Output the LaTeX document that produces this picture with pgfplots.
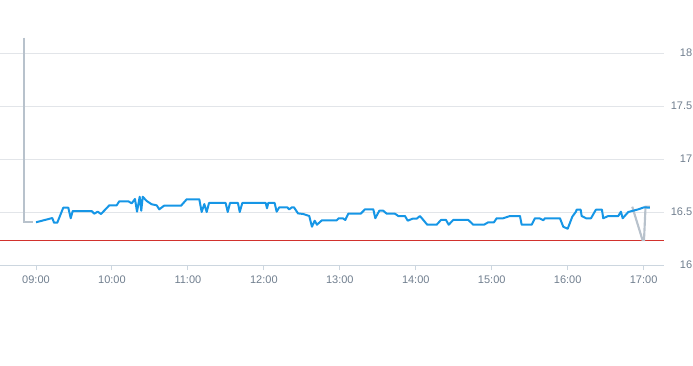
\documentclass[border=0pt]{standalone}
\usepackage{pgfplots}
\pgfplotsset{compat=1.18}
\usepackage{fontspec}
\setmainfont{Liberation Sans}
\definecolor{lblgray}{RGB}{112,126,142}
\definecolor{axgray}{RGB}{204,214,223}
\definecolor{gridgray}{RGB}{226,229,233}
\definecolor{bluel}{RGB}{22,150,230}
\definecolor{grayl}{RGB}{184,194,204}
\definecolor{redl}{RGB}{210,50,45}
\begin{document}
\begin{tikzpicture}
\useasboundingbox (0,0) rectangle (519.75pt,273.75pt);
\begin{axis}[
  at={(0pt,75pt)}, anchor=south west,
  scale only axis, width=498pt, height=198.75pt,
  xmin=8.526, xmax=17.268, ymin=16, ymax=18.5,
  axis x line=bottom, axis y line=right,
  axis line style={-},
  x axis line style={draw=axgray, line width=0.75pt},
  y axis line style={draw=none},
  xtick={9,10,11,12,13,14,15,16,17},
  xticklabels={09:00,10:00,11:00,12:00,13:00,14:00,15:00,16:00,17:00},
  ytick={16,16.5,17,17.5,18},
  yticklabels={16,16.5,17,17.5,18},
  tick align=outside, major tick length=3.75pt,
  xtick style={draw=axgray, line width=0.75pt},
  ytick style={draw=none},
  ymajorgrids, grid style={draw=gridgray, line width=0.6pt},
  ticklabel style={font=\fontsize{8.25pt}{10pt}\selectfont, text=lblgray},
  xticklabel style={anchor=base, inner sep=0pt, yshift=-9.75pt},
  yticklabel style={anchor=east, inner sep=0pt, xshift=17.6pt},
  /pgf/number format/assume math mode=true,
]
\addplot[draw=redl, line width=0.6pt] coordinates {(8.526,16.236) (17.268,16.236)};
\addplot[draw=grayl, line width=1.6pt] coordinates {(8.838,18.144) (8.838,16.403) (8.961,16.403)};
\addplot[draw=grayl, line width=1.6pt] coordinates {(16.850,16.550) (16.985,16.236) (17.005,16.236) (17.025,16.550) (17.083,16.550)};
\addplot[draw=bluel, line width=1.5pt, line join=round] coordinates {
(9.000,16.403) (9.215,16.443) (9.237,16.399) (9.280,16.399) (9.359,16.541)
(9.425,16.541) (9.457,16.441) (9.483,16.509) (9.733,16.509) (9.767,16.484)
(9.812,16.503) (9.856,16.481) (9.965,16.563) (10.062,16.563) (10.097,16.601)
(10.215,16.601) (10.260,16.582) (10.303,16.623) (10.330,16.503) (10.365,16.644)
(10.386,16.512) (10.405,16.644) (10.457,16.604) (10.523,16.573) (10.589,16.563)
(10.623,16.525) (10.685,16.559) (10.909,16.559) (10.984,16.620) (11.150,16.620)
(11.181,16.500) (11.216,16.575) (11.247,16.500) (11.278,16.585) (11.497,16.585)
(11.524,16.500) (11.554,16.585) (11.659,16.585) (11.682,16.500) (11.716,16.585)
(12.024,16.585) (12.041,16.535) (12.058,16.585) (12.142,16.585) (12.168,16.503)
(12.203,16.544) (12.308,16.544) (12.334,16.525) (12.370,16.544) (12.396,16.544)
(12.449,16.487) (12.519,16.481) (12.598,16.462) (12.633,16.361) (12.669,16.418)
(12.699,16.380) (12.765,16.422) (12.959,16.422) (12.985,16.441) (13.038,16.441)
(13.072,16.425) (13.112,16.484) (13.275,16.484) (13.331,16.525) (13.441,16.525)
(13.467,16.441) (13.520,16.512) (13.572,16.512) (13.617,16.484) (13.726,16.484)
(13.770,16.462) (13.858,16.462) (13.894,16.418) (13.959,16.437) (14.012,16.437)
(14.055,16.462) (14.099,16.425) (14.151,16.380) (14.275,16.380) (14.332,16.425)
(14.398,16.425) (14.433,16.380) (14.494,16.425) (14.691,16.425) (14.757,16.380)
(14.898,16.380) (14.955,16.403) (15.030,16.403) (15.065,16.441) (15.152,16.441)
(15.240,16.462) (15.372,16.462) (15.394,16.380) (15.526,16.380) (15.569,16.441)
(15.626,16.441) (15.679,16.422) (15.701,16.441) (15.898,16.441) (15.942,16.361)
(16.000,16.342) (16.061,16.456) (16.109,16.503) (16.118,16.522) (16.171,16.522)
(16.184,16.462) (16.241,16.441) (16.307,16.441) (16.372,16.522) (16.451,16.522)
(16.468,16.441) (16.534,16.462) (16.666,16.462) (16.701,16.503) (16.724,16.441)
(16.798,16.500) (16.929,16.525) (17.004,16.544) (17.083,16.541)
};
\end{axis}
\end{tikzpicture}
\end{document}
